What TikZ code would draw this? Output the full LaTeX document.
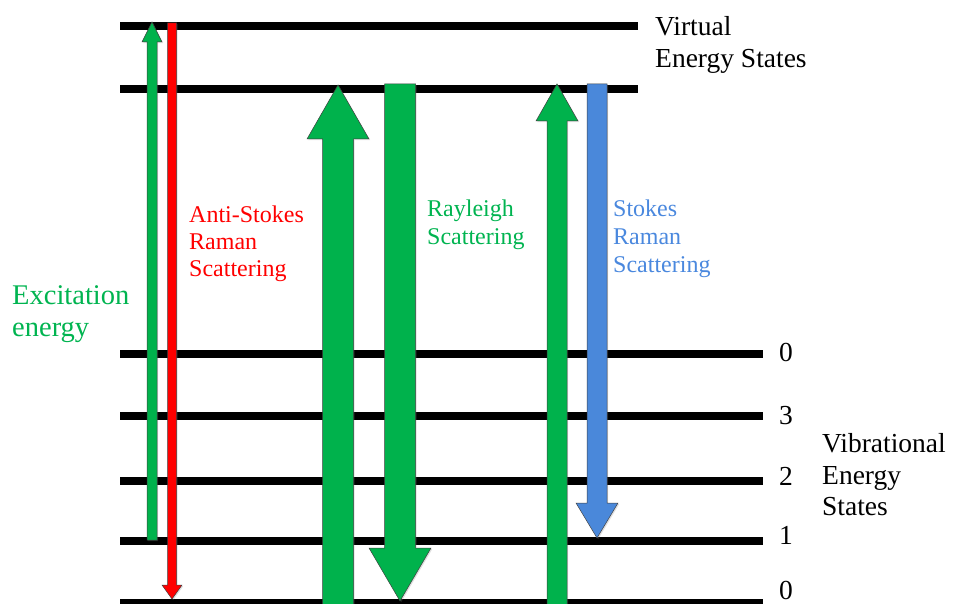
\documentclass[tikz,border=0pt]{standalone}
\usepackage{fontspec}
\setmainfont{Liberation Serif}
\usetikzlibrary{shadows}
\definecolor{xgreen}{RGB}{0,178,76}
\definecolor{xred}{RGB}{255,0,0}
\definecolor{xblue}{RGB}{74,136,218}
\definecolor{tgreen}{RGB}{0,180,80}
\definecolor{tblue}{RGB}{74,136,222}
\tikzset{
  level/.style={line width=7.5pt},
  arr/.style={draw=black!75, line width=0.5pt, line join=miter,
    drop shadow={shadow xshift=1.2pt, shadow yshift=-1.2pt, opacity=0.25}},
  lbl/.style={anchor=base west, inner sep=0pt, font=\fontsize{24}{27}\selectfont},
  big/.style={anchor=base west, inner sep=0pt, font=\fontsize{27.5}{31}\selectfont},
}
\begin{document}
\begin{tikzpicture}[x=1pt,y=-1pt]
\useasboundingbox (0,0) rectangle (954,604);
% level lines
\coordinate (v1l) at (120,26);  \coordinate (v1r) at (638,26);
\coordinate (v2l) at (120,89);  \coordinate (v2r) at (638,89);
\coordinate (e4l) at (120,354); \coordinate (e4r) at (763,354);
\coordinate (e3l) at (120,416); \coordinate (e3r) at (763,416);
\coordinate (e2l) at (120,481); \coordinate (e2r) at (763,481);
\coordinate (e1l) at (120,541); \coordinate (e1r) at (763,541);
\coordinate (e0l) at (120,603); \coordinate (e0r) at (763,603);
\foreach \a in {v1,v2,e4,e3,e2,e1,e0} \draw[level] (\a l) -- (\a r);
% 1 excitation (thin green up)
\filldraw[arr, fill=xgreen] (147,540) -- (147,42) -- (142,42) -- (152,22) -- (162,42) -- (157,42) -- (157,540) -- cycle;
% 2 anti-stokes (thin red down)
\filldraw[arr, fill=xred] (167.5,23) -- (167.5,585) -- (162,585) -- (172,599) -- (182,585) -- (176.5,585) -- (176.5,23) -- cycle;
% 3 Rayleigh up (big)
\filldraw[arr, fill=xgreen] (322.5,612) -- (322.5,139) -- (307,139) -- (338,85) -- (369,139) -- (353.5,139) -- (353.5,612) -- cycle;
% 4 Rayleigh down (big)
\filldraw[arr, fill=xgreen] (384.5,84) -- (384.5,548) -- (369,548) -- (400,601) -- (431,548) -- (415.5,548) -- (415.5,84) -- cycle;
% 5 Stokes up (medium)
\filldraw[arr, fill=xgreen] (547,612) -- (547,121) -- (536,121) -- (557,84) -- (578,121) -- (567,121) -- (567,612) -- cycle;
% 6 Stokes down (blue)
\filldraw[arr, fill=xblue] (587,84) -- (587,503) -- (576,503) -- (597,538) -- (618,503) -- (607,503) -- (607,84) -- cycle;
% labels
\node[big] (virt1) at (655,36) {Virtual};
\node[big] (virt2) at (655,68) {Energy States};
\node[big] (vib1) at (822,452) {Vibrational};
\node[big] (vib2) at (822,484) {Energy};
\node[big] (vib3) at (822,515) {States};
\node[big] (n4) at (779,362) {0};
\node[big] (n3) at (779,424) {3};
\node[big] (n2) at (779,485) {2};
\node[big] (n1) at (779,544) {1};
\node[big] (n0) at (779,599) {0};
\node[anchor=base west, inner sep=0pt, text=tgreen, font=\fontsize{28.5}{32}\selectfont] (ex1) at (12,305) {Excitation};
\node[anchor=base west, inner sep=0pt, text=tgreen, font=\fontsize{28.5}{32}\selectfont] (ex2) at (12,337) {energy};
\node[lbl, text=xred] (as1) at (189,223) {Anti-Stokes};
\node[lbl, text=xred] (as2) at (189,250) {Raman};
\node[lbl, text=xred] (as3) at (189,277) {Scattering};
\node[lbl, text=tgreen] (ra1) at (427,217) {Rayleigh};
\node[lbl, text=tgreen] (ra2) at (427,245) {Scattering};
\node[lbl, text=tblue] (st1) at (613,217) {Stokes};
\node[lbl, text=tblue] (st2) at (613,245) {Raman};
\node[lbl, text=tblue] (st3) at (613,273) {Scattering};
\end{tikzpicture}
\end{document}
